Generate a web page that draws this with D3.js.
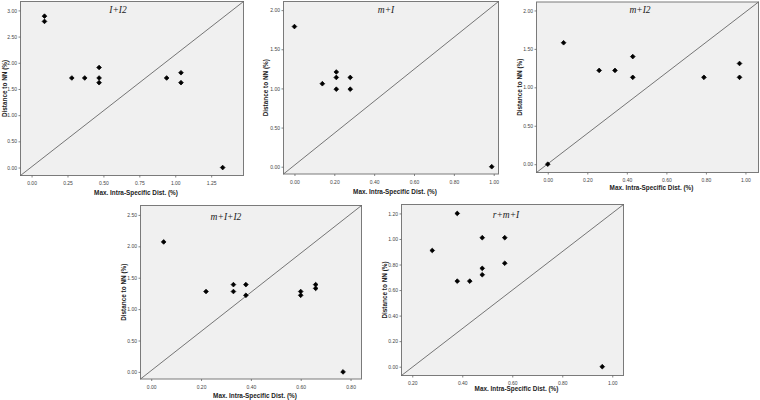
<!DOCTYPE html>
<html><head><meta charset="utf-8">
<script src="https://cdn.jsdelivr.net/npm/d3@7"></script>
<style>
html,body{margin:0;padding:0;background:#fff;}
svg{display:block;}
</style></head>
<body>
<svg id="chart" width="760" height="400"></svg>
<script>
// ---- Data ----
const titles = ["I+I2", "m+I", "m+I2", "m+I+I2", "r+m+I"];
const xLabel = "Max. Intra-Specific Dist. (%)";
const yLabel = "Distance to NN (%)";

const x1 = [0.09, 0.09, 0.28, 0.37, 0.47, 0.47, 0.47, 0.94, 1.04, 1.04, 1.33];
const y1 = [2.89, 2.79, 1.71, 1.71, 1.91, 1.71, 1.62, 1.71, 1.81, 1.62, 0.00];
const x2 = [0.00, 0.14, 0.21, 0.21, 0.21, 0.28, 0.28, 0.99];
const y2 = [1.79, 1.06, 1.21, 1.14, 0.99, 1.14, 0.99, 0.00];
const x3 = [0.00, 0.08, 0.26, 0.34, 0.43, 0.43, 0.79, 0.97, 0.97];
const y3 = [0.00, 1.58, 1.22, 1.22, 1.40, 1.13, 1.13, 1.31, 1.13];
const x4 = [0.05, 0.22, 0.33, 0.33, 0.38, 0.38, 0.60, 0.60, 0.66, 0.66, 0.77];
const y4 = [2.07, 1.28, 1.39, 1.28, 1.39, 1.22, 1.28, 1.22, 1.39, 1.33, 0.00];
const x5 = [0.38, 0.48, 0.57, 0.28, 0.57, 0.48, 0.48, 0.38, 0.43, 0.96];
const y5 = [1.20, 1.01, 1.01, 0.91, 0.81, 0.77, 0.72, 0.67, 0.67, 0.00];

const xTicks1 = [0, 0.25, 0.5, 0.75, 1.0, 1.25];
const yTicks1 = [0, 0.5, 1.0, 1.5, 2.0, 2.5, 3.0];
const xTicks2 = [0, 0.2, 0.4, 0.6, 0.8, 1.0];
const yTicks2 = [0, 0.5, 1.0, 1.5, 2.0];
const xTicks3 = [0, 0.2, 0.4, 0.6, 0.8, 1.0];
const yTicks3 = [0, 0.5, 1.0, 1.5, 2.0];
const xTicks4 = [0, 0.2, 0.4, 0.6, 0.8];
const yTicks4 = [0, 0.5, 1.0, 1.5, 2.0, 2.5];
const xTicks5 = [0.2, 0.4, 0.6, 0.8, 1.0];
const yTicks5 = [0, 0.2, 0.4, 0.6, 0.8, 1.0, 1.2];

const xDomains = [[-0.077, 1.475], [-0.055, 1.024], [-0.057, 1.066], [-0.043, 0.844], [0.157, 1.045]];
const yDomains = [[-0.152, 3.17], [-0.093, 2.11], [-0.108, 2.11], [-0.113, 2.65], [-0.069, 1.27]];

// ---- Layout (frames in px) ----
const frames = [
  {l: 20.5, r: 243.5, t: 1.5, b: 175.5},
  {l: 283.5, r: 498.5, t: 1.5, b: 174},
  {l: 536.5, r: 758.5, t: 2, b: 172.5},
  {l: 140.5, r: 361.5, t: 205.5, b: 379},
  {l: 401.5, r: 623.5, t: 204.5, b: 375.5}
];
const titlePos = [[118, 13], [386, 13], [640, 13], [226, 220], [506, 218]];
const yLabelX = [5, 266, 520, 124, 385];
const xLabelY = [195, 194, 190, 398, 391];

const panels = [
  {x: x1, y: y1, xt: xTicks1, yt: yTicks1},
  {x: x2, y: y2, xt: xTicks2, yt: yTicks2},
  {x: x3, y: y3, xt: xTicks3, yt: yTicks3},
  {x: x4, y: y4, xt: xTicks4, yt: yTicks4},
  {x: x5, y: y5, xt: xTicks5, yt: yTicks5}
];

const svg = d3.select("#chart");
const fmt = d3.format(".2f");

panels.forEach((p, i) => {
  const f = frames[i];
  const xs = d3.scaleLinear().domain(xDomains[i]).range([f.l, f.r]);
  const ys = d3.scaleLinear().domain(yDomains[i]).range([f.b, f.t]);
  const g = svg.append("g");

  g.append("rect")
    .attr("x", f.l).attr("y", f.t)
    .attr("width", f.r - f.l).attr("height", f.b - f.t)
    .attr("fill", "#f0f0f0").attr("stroke", "#7a7a7a").attr("stroke-width", 1);

  // diagonal reference line
  g.append("line")
    .attr("x1", xs(xDomains[i][0])).attr("y1", ys(yDomains[i][0]))
    .attr("x2", xs(xDomains[i][1])).attr("y2", ys(yDomains[i][1]))
    .attr("stroke", "#555").attr("stroke-width", 0.8);

  // axes
  const xa = g.append("g").attr("transform", `translate(0,${f.b})`)
    .call(d3.axisBottom(xs).tickValues(p.xt).tickFormat(fmt).tickSize(2).tickPadding(4));
  const ya = g.append("g").attr("transform", `translate(${f.l},0)`)
    .call(d3.axisLeft(ys).tickValues(p.yt).tickFormat(fmt).tickSize(2).tickPadding(1.5));
  [xa, ya].forEach(a => {
    a.select(".domain").remove();
    a.selectAll(".tick line").attr("stroke", "#666").attr("stroke-width", 0.8);
    a.selectAll("text").attr("font-family", "Liberation Sans, Arial, sans-serif")
      .attr("font-size", 5).attr("fill", "#444");
  });

  // points
  const sym = d3.symbol().type(d3.symbolSquare).size(11);
  g.selectAll("path.pt").data(p.x.map((v, k) => [v, p.y[k]])).enter()
    .append("path").attr("class", "pt")
    .attr("d", sym)
    .attr("transform", d => `translate(${xs(d[0])},${ys(d[1])}) rotate(45)`)
    .attr("fill", "#000").attr("stroke", "#000").attr("stroke-width", 0.7);

  // title
  g.append("text")
    .attr("x", titlePos[i][0]).attr("y", titlePos[i][1])
    .attr("text-anchor", "middle")
    .attr("font-family", "Liberation Serif, Times New Roman, serif")
    .attr("font-style", "italic").attr("font-size", 9.5).attr("fill", "#222")
    .text(titles[i]);

  // axis titles
  g.append("text")
    .attr("x", (f.l + f.r) / 2 + 4).attr("y", xLabelY[i])
    .attr("text-anchor", "middle")
    .attr("font-family", "Liberation Sans, Arial, sans-serif")
    .attr("font-weight", "bold").attr("font-size", 6.4).attr("fill", "#222")
    .text(xLabel);
  g.append("text")
    .attr("transform", `translate(${yLabelX[i]},${(f.t + f.b) / 2}) rotate(-90)`)
    .attr("text-anchor", "middle").attr("dy", "0.35em")
    .attr("font-family", "Liberation Sans, Arial, sans-serif")
    .attr("font-weight", "bold").attr("font-size", 6.4).attr("fill", "#222")
    .text(yLabel);
});
</script>
</body></html>
